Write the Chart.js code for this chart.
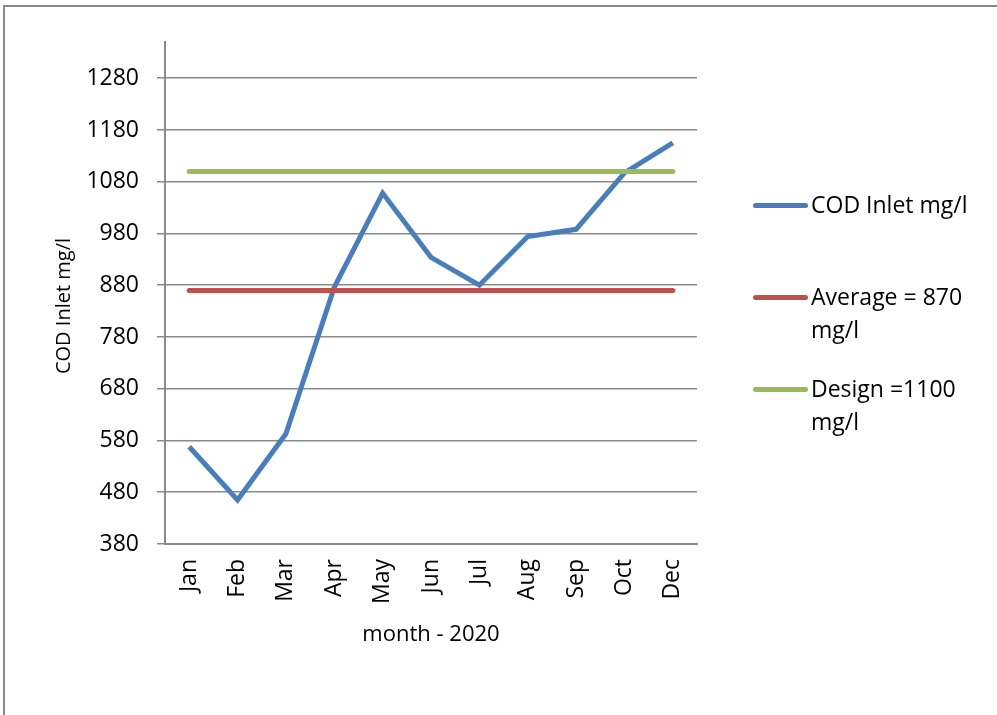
<!DOCTYPE html>
<html>
<head>
<meta charset="utf-8">
<script src="https://cdn.jsdelivr.net/npm/chart.js@4.4.0/dist/chart.umd.min.js"></script>
<style>
  html, body { margin: 0; padding: 0; background: #fff; overflow: hidden; }
  #wrap { position: relative; width: 997px; height: 715px; }
  #frame { position: absolute; left: 3px; top: 5px; width: 1200px; height: 900px;
           border-top: 2px solid #8a8a8a; border-left: 2px solid #8a8a8a; }
  #mycanvas { position: absolute; left: 0; top: 0; }
  .leg { position: absolute; font-family: "Open Sans", sans-serif; font-size: 23px;
         line-height: 33px; color: #000; }
  .legline { position: absolute; width: 55px; height: 5px; border-radius: 3px; }
</style>
</head>
<body>
<div id="wrap">
  <div id="frame"></div>
  <canvas id="mycanvas" width="997" height="715"></canvas>
  <div class="legline" style="left:753px; top:203px; background:#4A7EBB;"></div>
  <div class="leg" style="left:811px; top:188px;">COD Inlet mg/l</div>
  <div class="legline" style="left:753px; top:295px; background:#C0504D;"></div>
  <div class="leg" style="left:811px; top:280px;">Average = 870<br>mg/l</div>
  <div class="legline" style="left:753px; top:387px; background:#9BBB59;"></div>
  <div class="leg" style="left:811px; top:372px;">Design =1100<br>mg/l</div>
</div>
<script>
var months = ['Jan', 'Feb', 'Mar', 'Apr', 'May', 'Jun', 'Jul', 'Aug', 'Sep', 'Oct', 'Dec'];
var codInlet = [568, 465, 593, 876, 1058, 934, 880, 974, 988, 1097, 1155];
var average = [870, 870, 870, 870, 870, 870, 870, 870, 870, 870, 870];
var design = [1100, 1100, 1100, 1100, 1100, 1100, 1100, 1100, 1100, 1100, 1100];
var yTicks = [380, 480, 580, 680, 780, 880, 980, 1080, 1180, 1280];
var yMin = 380, yMax = 1350;

var gridGray = '#898989';
var font = 'Open Sans';

// y axis title drawn by hand so it sits where Excel put it
var yTitlePlugin = {
  id: 'yTitle',
  afterDraw: function(chart) {
    var c = chart.ctx;
    c.save();
    c.translate(64, 306);
    c.rotate(-Math.PI / 2);
    c.font = '20px "Open Sans"';
    c.fillStyle = '#000';
    c.textAlign = 'center';
    c.textBaseline = 'middle';
    c.fillText('COD Inlet mg/l', 0, 0);
    c.restore();
  }
};

var chartdata = {
  labels: months,
  datasets: [
    {
      label: 'COD Inlet mg/l',
      data: codInlet,
      borderColor: '#4A7EBB',
      borderWidth: 5,
      pointRadius: 0,
      tension: 0,
      order: 3
    },
    {
      label: 'Average = 870 mg/l',
      data: average,
      borderColor: '#C0504D',
      borderWidth: 5,
      borderCapStyle: 'round',
      pointRadius: 0,
      order: 2
    },
    {
      label: 'Design =1100 mg/l',
      data: design,
      borderColor: '#9BBB59',
      borderWidth: 5,
      borderCapStyle: 'round',
      pointRadius: 0,
      order: 1
    }
  ]
};

var ctx = document.getElementById('mycanvas');

var lineGraph = new Chart(ctx, {
  type: 'line',
  data: chartdata,
  plugins: [yTitlePlugin],
  options: {
    responsive: false,
    animation: false,
    layout: { padding: { left: 0, right: 300, top: 42, bottom: 0 } },
    plugins: {
      legend: { display: false },
      tooltip: { enabled: false }
    },
    scales: {
      x: {
        offset: true,
        grid: { display: false, drawTicks: false },
        border: { display: true, color: gridGray, width: 2 },
        ticks: {
          color: '#000',
          font: { family: font, size: 23 },
          minRotation: 90,
          maxRotation: 90,
          padding: 15
        },
        title: {
          display: true,
          text: 'month - 2020',
          color: '#000',
          font: { family: font, size: 22 },
          padding: { top: 0, bottom: 67 }
        },
        afterFit: function(scale) { scale.height = 171; }
      },
      y: {
        min: yMin,
        max: yMax,
        grid: { color: gridGray, lineWidth: 1.5, tickLength: 8 },
        border: { display: true, color: gridGray, width: 2 },
        ticks: {
          color: '#000',
          font: { family: font, size: 23 },
          padding: 18,
          callback: function(value) { return String(value); }
        },
        afterBuildTicks: function(scale) {
          scale.ticks = yTicks.map(function(v) { return { value: v }; });
        },
        afterFit: function(scale) { scale.width = 165; }
      }
    }
  }
});
</script>
</body>
</html>
